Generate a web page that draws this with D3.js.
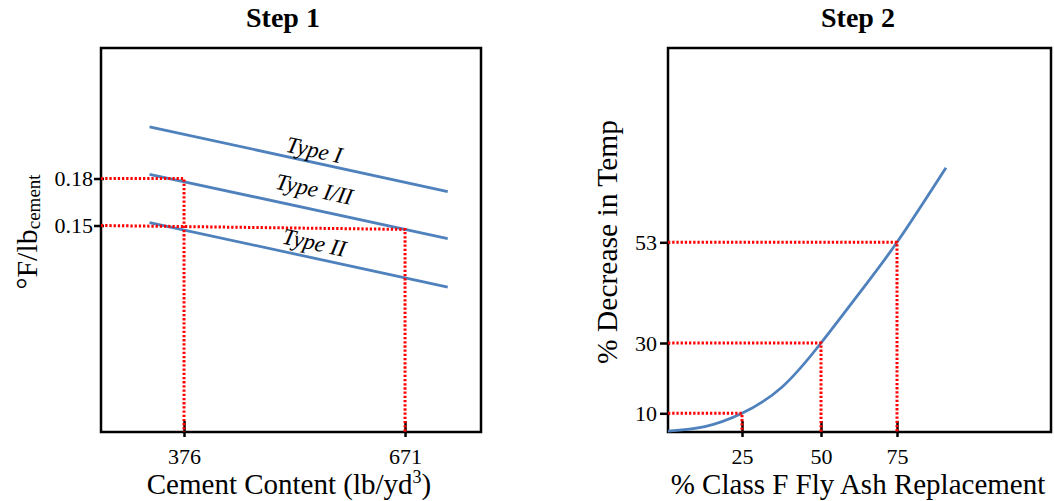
<!DOCTYPE html>
<html>
<head>
<meta charset="utf-8">
<script src="https://cdn.jsdelivr.net/npm/d3@7/dist/d3.min.js"></script>
<style>
  html, body { margin: 0; padding: 0; background: #ffffff; }
  svg { display: block; font-family: "Liberation Serif", "Times New Roman", serif; }
</style>
</head>
<body>
<svg id="chart" width="1055" height="501"></svg>
<script>
// ---- Step 1: heat per pound of cement vs. cement content ----
const cementTypes = ["Type I", "Type I/II", "Type II"];
const cementContent = [330, 728];            // lb/yd3 at the two ends of each line
const typeIValues = [0.213, 0.1717];          // °F per lb of cement
const typeIIIValues = [0.1827, 0.1417];
const typeIIValues = [0.1519, 0.1107];
const step1XTicks = [376, 671];
const step1YTicks = [0.15, 0.18];
const step1XDomain = [265.2, 772.4];
const step1YDomain = [0.0182, 0.2633];
// reading guides: [start value on y axis, cement content, value at that content]
const step1Guides = [
  [0.18, 376, 0.18],
  [0.15, 671, 0.1475]
];

// ---- Step 2: temperature decrease vs. fly ash replacement ----
const flyAshPct = [1.1, 13, 25, 37.7, 50, 62.5, 75, 90.8];
const tempDecreasePct = [0.5, 2.9, 10, 17.5, 30, 41.3, 53, 70];
const step2XTicks = [25, 50, 75];
const step2YTicks = [10, 30, 53];
// the sketch axes are not evenly spaced, so both scales are piecewise
const step2XDomain = [1.1, 25, 50, 75, 124.7];
const step2YDomain = [0, 10, 30, 53, 97.3];
// reading guides: [fly ash %, decrease %]
const step2Guides = [[25, 10], [50, 30], [75, 53]];

const svg = d3.select("#chart");
const BLUE = "#4f81bd";
const RED = "#ff0000";

function frame(g, x0, y0, x1, y1) {
  g.append("rect")
    .attr("x", x0).attr("y", y0)
    .attr("width", x1 - x0).attr("height", y1 - y0)
    .attr("fill", "none").attr("stroke", "#000").attr("stroke-width", 2.5);
}

function styleAxis(sel, fontSize) {
  sel.select(".domain").remove();
  sel.selectAll(".tick line").attr("stroke", "#000").attr("stroke-width", 2.5);
  sel.selectAll(".tick text")
    .attr("fill", "#000")
    .style("font-family", "'Liberation Serif', 'Times New Roman', serif")
    .style("font-size", fontSize + "px");
}

function guidePath(g, pts) {
  g.append("path")
    .attr("d", d3.line()(pts))
    .attr("fill", "none")
    .attr("stroke", RED)
    .attr("stroke-width", 3)
    .attr("stroke-dasharray", "2.3,1.9");
}

// ================= Step 1 =================
(function () {
  const L = 101, R = 481, T = 48, B = 432;
  const x = d3.scaleLinear().domain(step1XDomain).range([L, R]);
  const y = d3.scaleLinear().domain(step1YDomain).range([B, T]);
  const g = svg.append("g");

  svg.append("text")
    .attr("x", 283).attr("y", 27)
    .attr("text-anchor", "middle")
    .style("font-weight", "bold").style("font-size", "28px")
    .text("Step 1");

  frame(g, L, T, R, B);

  const ax = g.append("g").attr("transform", `translate(0,${B})`)
    .call(d3.axisBottom(x).tickValues(step1XTicks).tickFormat(d3.format("d"))
      .tickSize(5).tickPadding(11));
  styleAxis(ax, 22);
  ax.selectAll(".tick line").attr("y1", -11);

  const ay = g.append("g").attr("transform", `translate(${L},0)`)
    .call(d3.axisLeft(y).tickValues(step1YTicks).tickFormat(d3.format(".2f"))
      .tickSize(7).tickPadding(1));
  styleAxis(ay, 22);
  ay.selectAll(".tick line").attr("x1", 3);

  // cement type lines
  const series = [typeIValues, typeIIIValues, typeIIValues];
  const line = d3.line().x((d, i) => x(cementContent[i])).y(d => y(d));
  series.forEach(vals => {
    g.append("path").attr("d", line(vals))
      .attr("fill", "none").attr("stroke", BLUE).attr("stroke-width", 2.8);
  });

  // reading guides
  const xMin = x.domain()[0], yMin = y.domain()[0];
  step1Guides.forEach(([v0, c, v1]) => {
    guidePath(g, [[x(xMin), y(v0)], [x(c), y(v1)], [x(c), y(yMin)]]);
  });

  // line labels, set along each line's slope
  const labelAt = 550;
  const labelOffsets = [-13, -21, -16];
  series.forEach((vals, i) => {
    const t = (labelAt - cementContent[0]) / (cementContent[1] - cementContent[0]);
    const v = vals[0] + t * (vals[1] - vals[0]);
    const ang = Math.atan2(y(vals[1]) - y(vals[0]), x(cementContent[1]) - x(cementContent[0])) * 180 / Math.PI;
    g.append("text")
      .attr("transform", `translate(${x(labelAt)},${y(v) + labelOffsets[i]}) rotate(${ang})`)
      .attr("text-anchor", "middle").attr("dy", "0.35em")
      .style("font-style", "italic").style("font-size", "23px")
      .text(cementTypes[i]);
  });

  // axis titles
  const xt = svg.append("text")
    .attr("x", 289).attr("y", 494)
    .attr("text-anchor", "middle").style("font-size", "29px");
  xt.append("tspan").text("Cement Content (lb/yd");
  xt.append("tspan").attr("dy", -11).style("font-size", "18px").text("3");
  xt.append("tspan").attr("dy", 11).text(")");

  const yt = svg.append("text")
    .attr("transform", "translate(37,232) rotate(-90)")
    .attr("text-anchor", "middle").style("font-size", "30px");
  yt.append("tspan").text("°F/lb");
  yt.append("tspan").attr("dy", 3).style("font-size", "19px").text("cement");
})();

// ================= Step 2 =================
(function () {
  const L = 668, R = 1051, T = 48, B = 432;
  const x = d3.scaleLinear().domain(step2XDomain).range([L, 742, 821, 897, R]);
  const y = d3.scaleLinear().domain(step2YDomain).range([B, 413.3, 343, 242.3, T]);
  const g = svg.append("g");

  svg.append("text")
    .attr("x", 858).attr("y", 27)
    .attr("text-anchor", "middle")
    .style("font-weight", "bold").style("font-size", "28px")
    .text("Step 2");

  frame(g, L, T, R, B);

  const ax = g.append("g").attr("transform", `translate(0,${B})`)
    .call(d3.axisBottom(x).tickValues(step2XTicks).tickFormat(d3.format("d"))
      .tickSize(5).tickPadding(11));
  styleAxis(ax, 22);
  ax.selectAll(".tick line").attr("y1", -11);

  const ay = g.append("g").attr("transform", `translate(${L},0)`)
    .call(d3.axisLeft(y).tickValues(step2YTicks).tickFormat(d3.format("d"))
      .tickSize(8).tickPadding(3));
  styleAxis(ay, 22);
  ay.selectAll(".tick line").attr("x1", 2);

  // response curve
  const curve = d3.line()
    .x((d, i) => x(flyAshPct[i]))
    .y(d => y(d))
    .curve(d3.curveNatural);
  g.append("path").attr("d", curve(tempDecreasePct))
    .attr("fill", "none").attr("stroke", BLUE).attr("stroke-width", 2.8);

  // reading guides
  const xMin = x.domain()[0], yMin = y.domain()[0];
  step2Guides.forEach(([f, v]) => {
    guidePath(g, [[x(xMin), y(v)], [x(f), y(v)], [x(f), y(yMin)]]);
  });

  // axis titles
  svg.append("text")
    .attr("x", 858).attr("y", 494)
    .attr("text-anchor", "middle").style("font-size", "29px")
    .text("% Class F Fly Ash Replacement");

  svg.append("text")
    .attr("transform", "translate(617,242) rotate(-90)")
    .attr("text-anchor", "middle").style("font-size", "29.5px")
    .text("% Decrease in Temp");
})();
</script>
</body>
</html>
